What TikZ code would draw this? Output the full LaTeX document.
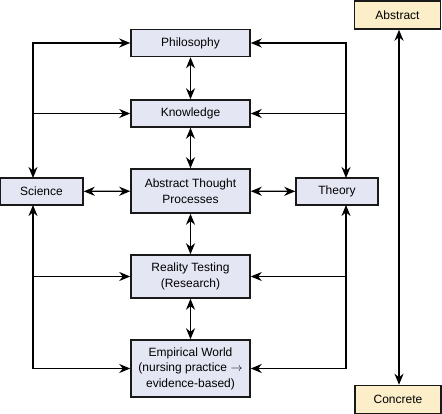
\documentclass[tikz,border=0pt]{standalone}
\usepackage{fontspec}
\setmainfont{Liberation Sans}
\usetikzlibrary{arrows.meta}
\definecolor{boxblue}{HTML}{E4E6F4}
\definecolor{boxtan}{HTML}{FBEEC8}
\begin{document}
\begin{tikzpicture}[x=1pt, y=-1pt,
    box/.style={draw=black!90, line width=1.5pt, fill=boxblue, minimum width=119pt,
      align=center, inner sep=0pt, font=\fontsize{12}{15.5}\selectfont},
    endbox/.style={box, fill=boxtan, minimum width=86pt, minimum height=28pt},
    tip/.tip={Stealth[length=11pt, width=9pt, inset=3.5pt]},
    link/.style={line width=1.3pt, -tip},
    both/.style={line width=1.3pt, tip-tip}]
      \useasboundingbox (0, 0) rectangle (442, 414);

      \def\lx{33}
      \def\rx{346}

      \node[box, minimum height=27pt] (phil) at (190.5, 43) {Philosophy};
      \node[box, minimum height=27pt] (know) at (190.5, 113.5) {Knowledge};
      \node[box, minimum height=44pt] (atp) at (190.5, 191) {Abstract Thought\\Processes};
      \node[box, minimum height=27pt, minimum width=83pt] (sci) at (41.5, 191.5) {Science};
      \node[box, minimum height=27pt, minimum width=82pt] (theo) at (337, 191.5) {Theory};
      \node[box, minimum height=43pt] (real) at (190.5, 276.5) {Reality Testing\\(Research)};
      \node[box, minimum height=57pt] (emp) at (190.5, 368.5) {Empirical World\\(nursing practice $\rightarrow$\\evidence-based)};
      \node[endbox] (abs) at (397.5, 15) {Abstract};
      \node[endbox] (con) at (398, 399.5) {Concrete};

      \coordinate (sciup) at (\lx, 178);
      \coordinate (scidn) at (\lx, 205);
      \coordinate (theoup) at (\rx, 178);
      \coordinate (theodn) at (\rx, 205);
      \coordinate (axis) at (399, 0);

      \draw[both] (phil) -- (know);
      \draw[both] (know) -- (atp);
      \draw[both] (atp) -- (real);
      \draw[both] (real) -- (emp);
      \draw[both] (sci) -- (atp);
      \draw[both] (atp) -- (theo);

      \draw[both] (phil.west) -| (sciup);
      \draw[link] (know.west -| sciup) -- (know.west);
      \draw[both] (emp.west) -| (scidn);
      \draw[link] (real.west -| scidn) -- (real.west);

      \draw[both] (phil.east) -| (theoup);
      \draw[link] (know.east -| theoup) -- (know.east);
      \draw[both] (emp.east) -| (theodn);
      \draw[link] (real.east -| theodn) -- (real.east);

      \draw[both] (abs.south -| axis) -- (con.north -| axis);
    \end{tikzpicture}
\end{document}
